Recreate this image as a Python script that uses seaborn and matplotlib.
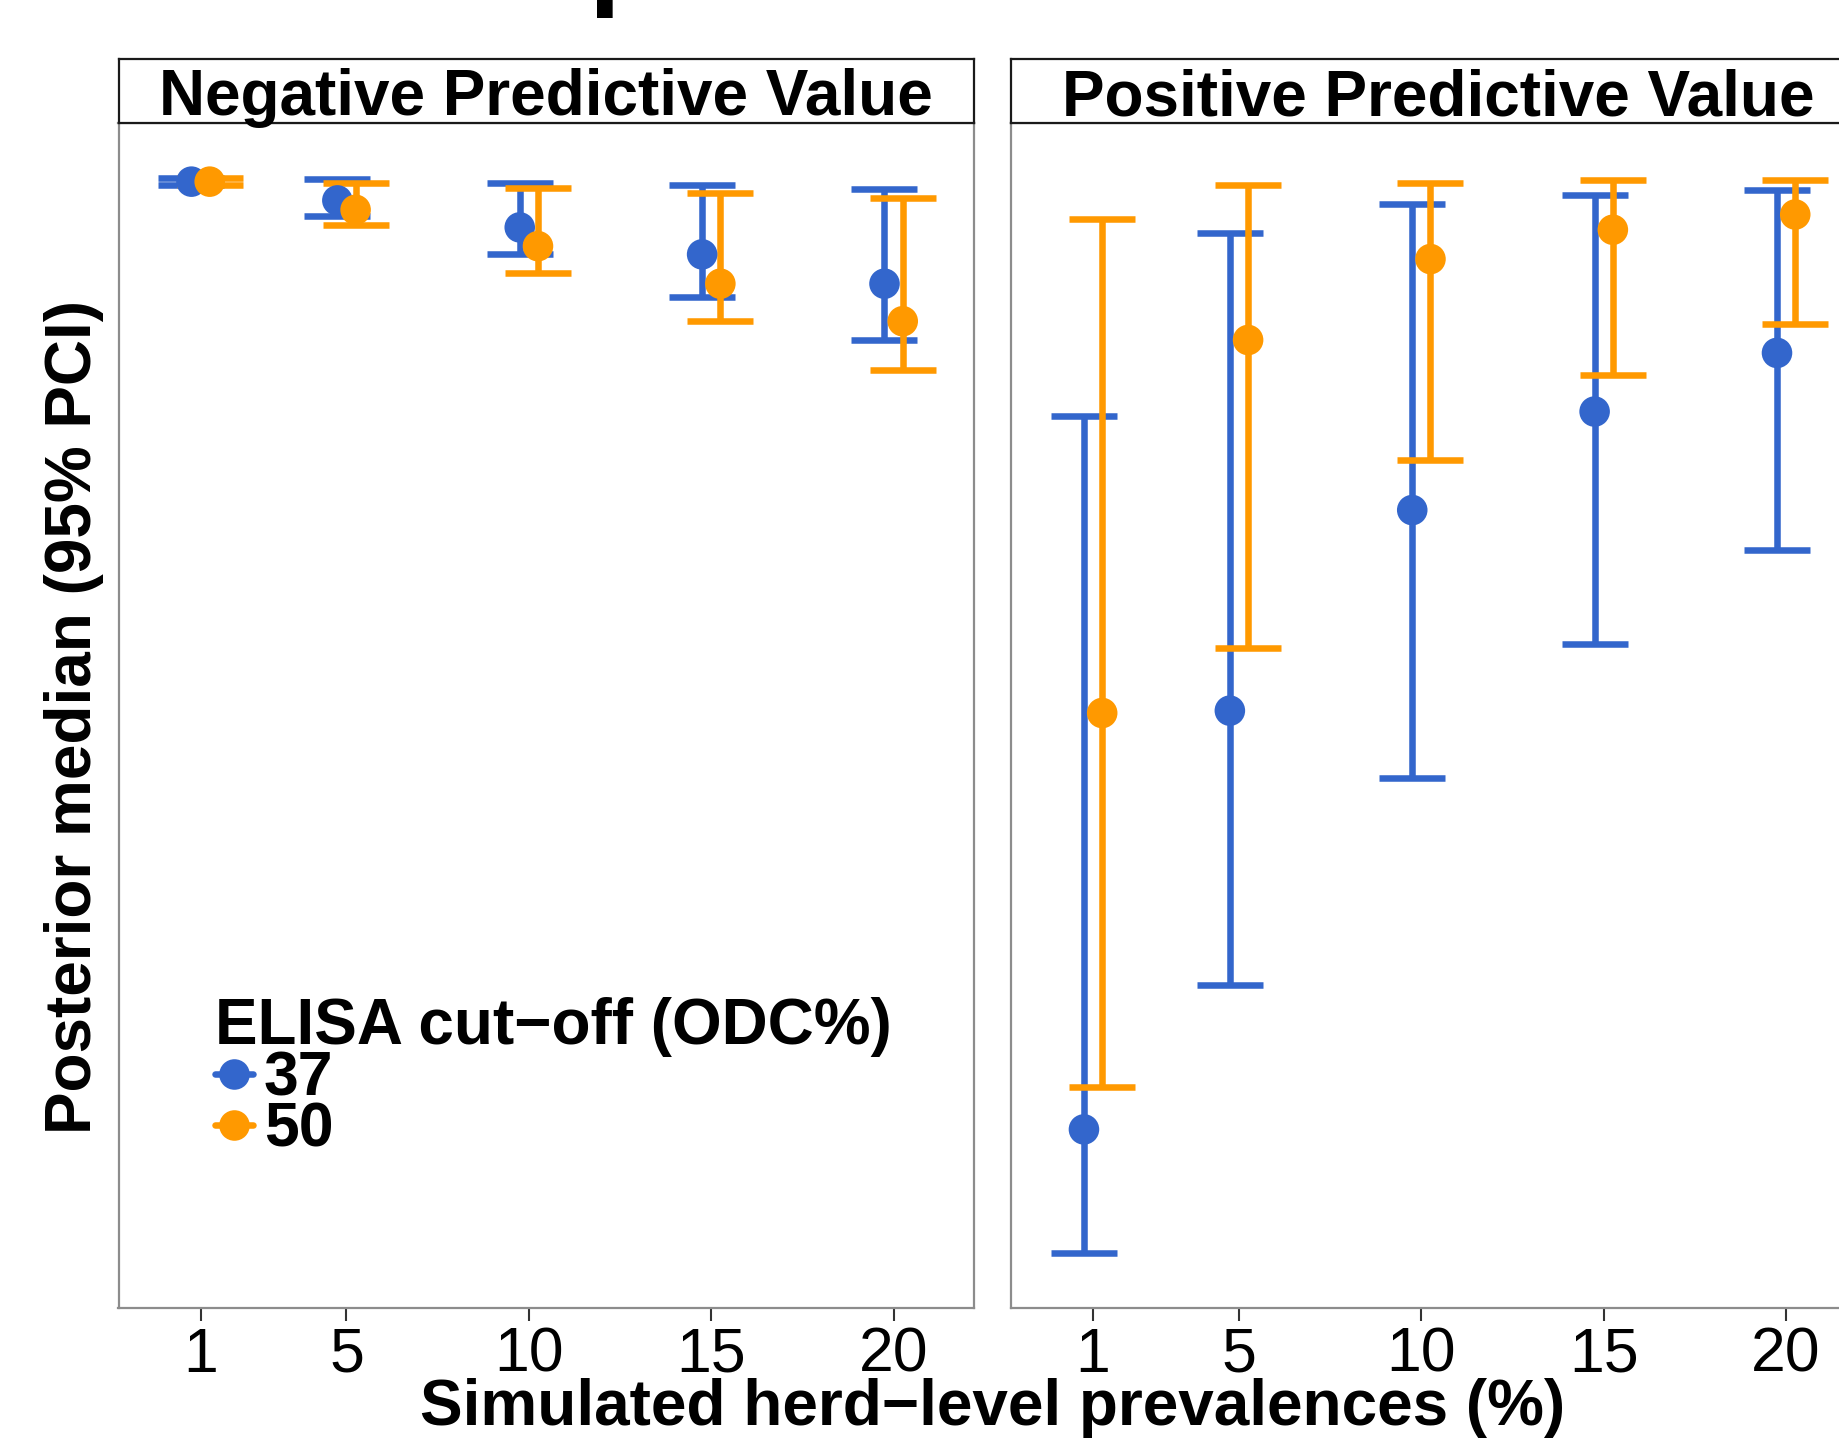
import numpy as np
import pandas as pd
import matplotlib
matplotlib.use("Agg")
import matplotlib.pyplot as plt
from matplotlib.lines import Line2D
import seaborn as sns

# ---------------- data ----------------
prevalences = [1, 5, 10, 15, 20]
cutoffs = ["37", "50"]
measures = ["Negative Predictive Value", "Positive Predictive Value"]

npv_37_med = [0.996, 0.980, 0.957, 0.934, 0.909]
npv_37_lo = [0.993, 0.967, 0.934, 0.898, 0.861]
npv_37_hi = [0.999, 0.998, 0.995, 0.993, 0.990]
npv_50_med = [0.996, 0.972, 0.941, 0.909, 0.877]
npv_50_lo = [0.993, 0.959, 0.918, 0.877, 0.835]
npv_50_hi = [0.999, 0.995, 0.991, 0.986, 0.982]

ppv_37_med = [0.188, 0.545, 0.716, 0.800, 0.850]
ppv_37_lo = [0.083, 0.311, 0.488, 0.602, 0.682]
ppv_37_hi = [0.796, 0.952, 0.977, 0.985, 0.989]
ppv_50_med = [0.543, 0.861, 0.930, 0.955, 0.968]
ppv_50_lo = [0.224, 0.598, 0.759, 0.831, 0.875]
ppv_50_hi = [0.964, 0.993, 0.995, 0.997, 0.997]

x_ticks = [1, 5, 10, 15, 20]
x_label = "Simulated herd\u2212level prevalences (%)"
y_label = "Posterior median (95% PCI)"
legend_title = "ELISA cut\u2212off (ODC%)"

rows = []
series = {
    ("Negative Predictive Value", "37"): (npv_37_med, npv_37_lo, npv_37_hi),
    ("Negative Predictive Value", "50"): (npv_50_med, npv_50_lo, npv_50_hi),
    ("Positive Predictive Value", "37"): (ppv_37_med, ppv_37_lo, ppv_37_hi),
    ("Positive Predictive Value", "50"): (ppv_50_med, ppv_50_lo, ppv_50_hi),
}
for (m, c), (med, lo, hi) in series.items():
    for p, a, b, h in zip(prevalences, med, lo, hi):
        rows.append(dict(measure=m, cutoff=c, prevalence=p, median=a, lo=b, hi=h))
df = pd.DataFrame(rows)

# ---------------- style ----------------
palette = {"37": "#3366CC", "50": "#FF9900"}
dodge = {"37": -0.25, "50": 0.25}
df["xpos"] = df["prevalence"] + df["cutoff"].map(dodge)

sns.set_theme(style="white")
plt.rcParams["font.family"] = ["Liberation Sans", "DejaVu Sans"]
plt.rcParams["text.color"] = "black"
plt.rcParams["axes.labelcolor"] = "black"
plt.rcParams["xtick.color"] = "black"
plt.rcParams["legend.labelcolor"] = "black"

FS = 46
LW = 4.7
fig = plt.figure(figsize=(18.39, 14.40), dpi=100)
fig.patch.set_facecolor("white")

panel_w = 855 / 1839
panel_b = 1 - 1307.7 / 1440
panel_h = (1307.7 - 123) / 1440
strip_b = 1 - 123 / 1440
strip_h = (123 - 58.6) / 1440
lefts = [118.5 / 1839, 1011 / 1839]

axes = []
for i, m in enumerate(measures):
    ax = fig.add_axes([lefts[i], panel_b, panel_w, panel_h])
    sub = df[df["measure"] == m]
    for c in cutoffs:
        s = sub[sub["cutoff"] == c]
        ax.errorbar(s["xpos"], s["median"],
                    yerr=[s["median"] - s["lo"], s["hi"] - s["median"]],
                    fmt="none", ecolor=palette[c], elinewidth=LW,
                    capsize=23.7, capthick=LW, zorder=2)
    sns.scatterplot(data=sub, x="xpos", y="median", hue="cutoff",
                    hue_order=cutoffs, palette=palette, s=484, linewidth=0,
                    ax=ax, legend=False, zorder=3)
    ax.set_xlim(-1.25, 22.19)
    ax.set_ylim(0.036, 1.046)
    ax.set_xticks(x_ticks)
    ax.set_xticklabels([str(t) for t in x_ticks])
    ax.set_yticks([])
    ax.set_xlabel("")
    ax.set_ylabel("")
    ax.tick_params(axis="x", bottom=True, length=9.4, width=1.5,
                   color="#333333", pad=3.6, labelsize=45, labelcolor="black")
    for sp in ax.spines.values():
        sp.set_color("#8c8c8c")
        sp.set_linewidth(1.6)
    ax.set_facecolor("white")

    # facet strip
    sax = fig.add_axes([lefts[i], strip_b, panel_w, strip_h])
    sax.set_xticks([])
    sax.set_yticks([])
    sax.set_facecolor("white")
    for sp in sax.spines.values():
        sp.set_color("#1a1a1a")
        sp.set_linewidth(1.6)
    sax.text(0.5, 0.124, m, transform=sax.transAxes, ha="center",
             va="baseline", fontsize=FS, fontweight="bold", color="black")
    axes.append(ax)

# legend in first panel
handles = [Line2D([0], [0], color=palette[c], marker="o", markersize=22,
                  markeredgewidth=0, lw=LW) for c in cutoffs]
leg = axes[0].legend(handles, cutoffs, title=legend_title, loc="upper left",
                     bbox_to_anchor=(0.113, 0.2623), frameon=False,
                     prop={"weight": "bold", "size": 45},
                     title_fontproperties={"weight": "bold", "size": FS},
                     handlelength=0.6, handletextpad=0.18, labelspacing=-0.12,
                     borderpad=0, borderaxespad=0, alignment="left")
leg.get_title().set_color("black")
for t in leg.get_texts():
    t.set_color("black")

# shared axis labels
fig.text(0.540, 15 / 1440, x_label, ha="center", va="baseline",
         fontsize=FS, fontweight="bold", color="black")
fig.text(74 / 1839, 0.502, y_label, ha="center", va="center", rotation=90,
         fontsize=FS, fontweight="bold", color="black")

# cut-off remnant of a title above the figure
fig.text(588 / 1839, 1 + 6 / 1440, "p", ha="left", va="baseline",
         fontsize=83, fontweight="bold", color="black")

fig.savefig("out.png", dpi=100, facecolor="white")
